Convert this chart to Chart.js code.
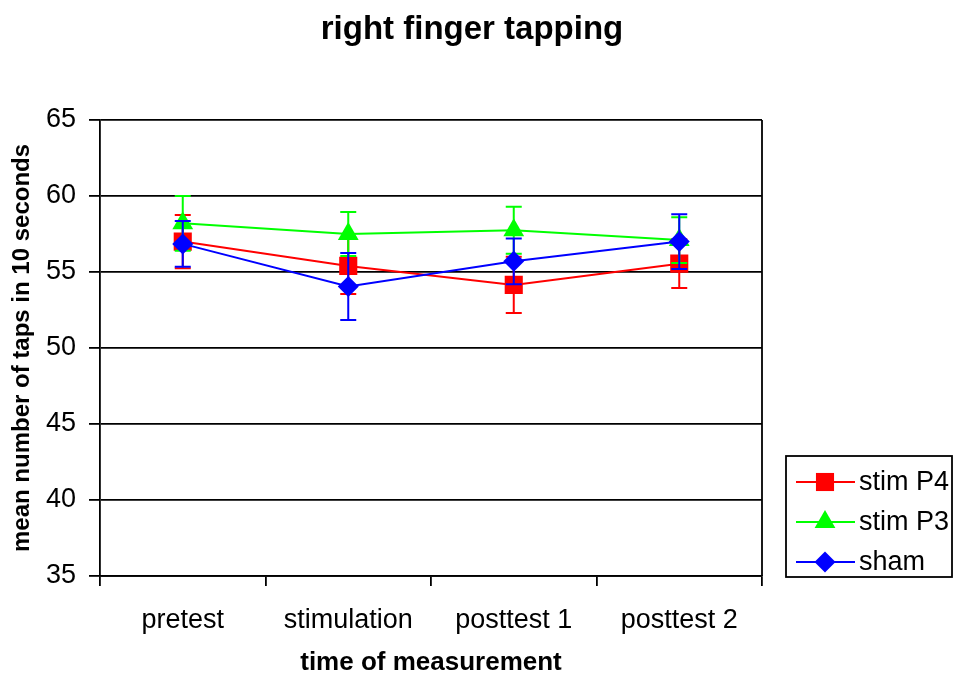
<!DOCTYPE html>
<html lang="en">
<head>
    <meta charset="UTF-8">
    <script src="https://cdn.jsdelivr.net/npm/chart.js"></script>
    <style>
        body {
            margin: 0;
            padding: 0;
            background-color: #fff;
        }
        #chart {
            display: block;
        }
    </style>
</head>
<body>
    <canvas id="chart" width="954" height="676"></canvas>
    <script>
        // Data
        const chartTitle = 'right finger tapping';
        const categories = ['pretest', 'stimulation', 'posttest 1', 'posttest 2'];
        const seriesNames = ['stim P4', 'stim P3', 'sham'];
        const stimP4 = [57.0, 55.4, 54.15, 55.55];
        const stimP4Err = [1.75, 1.85, 1.85, 1.6];
        const stimP3 = [58.2, 57.5, 57.75, 57.1];
        const stimP3Err = [1.8, 1.45, 1.55, 1.5];
        const sham = [56.85, 54.05, 55.7, 57.0];
        const shamErr = [1.5, 2.2, 1.5, 1.8];
        const yTicks = [35, 40, 45, 50, 55, 60, 65];

        const FONT = "'Liberation Sans', Arial, sans-serif";
        const colors = ['#ff0000', '#00ff00', '#0000ff'];
        const styles = ['rect', 'triangle', 'rectRot'];
        const radii = [12.8, 12, 10.5];

        // vertical error bars, drawn under each series' own markers
        const errorBars = {
            id: 'errorBars',
            beforeDatasetDraw(chart, args) {
                const ds = chart.data.datasets[args.index];
                if (!ds.errors) return;
                const y = chart.scales.y;
                const c = chart.ctx;
                c.save();
                c.strokeStyle = ds.borderColor;
                c.lineWidth = 2;
                args.meta.data.forEach((pt, i) => {
                    const v = ds.data[i], e = ds.errors[i];
                    const top = y.getPixelForValue(v + e);
                    const bot = y.getPixelForValue(v - e);
                    c.beginPath();
                    c.moveTo(pt.x, top); c.lineTo(pt.x, bot);
                    c.moveTo(pt.x - 8, top); c.lineTo(pt.x + 8, top);
                    c.moveTo(pt.x - 8, bot); c.lineTo(pt.x + 8, bot);
                    c.stroke();
                });
                c.restore();
            }
        };

        const drawMarker = (c, style, x, y, r) => {
            c.beginPath();
            if (style === 'rect') {
                const s = r * Math.SQRT1_2;
                c.rect(x - s, y - s, 2 * s, 2 * s);
            } else if (style === 'triangle') {
                for (let k = 0; k < 3; k++) {
                    const a = k * 2 * Math.PI / 3;
                    const px = x + Math.sin(a) * r, py = y - Math.cos(a) * r;
                    k ? c.lineTo(px, py) : c.moveTo(px, py);
                }
                c.closePath();
            } else {
                c.moveTo(x - r, y); c.lineTo(x, y - r);
                c.lineTo(x + r, y); c.lineTo(x, y + r);
                c.closePath();
            }
            c.fill();
        };

        // title over the whole canvas, plot frame and boxed legend on the right
        const frameAndLegend = {
            id: 'frameAndLegend',
            afterDraw(chart) {
                const c = chart.ctx;
                const a = chart.chartArea;
                c.save();
                c.fillStyle = '#000';
                c.font = 'bold 33px ' + FONT;
                c.textAlign = 'center';
                c.textBaseline = 'middle';
                c.fillText(chartTitle, 472, 30);

                c.strokeStyle = '#000';
                c.lineWidth = 1.8;
                c.beginPath();
                c.moveTo(a.right, a.top); c.lineTo(a.right, a.bottom);
                c.stroke();

                c.lineWidth = 1.8;
                c.strokeRect(786, 456, 166, 121);
                c.font = '27px ' + FONT;
                c.textAlign = 'left';
                seriesNames.forEach((name, i) => {
                    const ly = 482 + i * 40;
                    c.strokeStyle = colors[i];
                    c.fillStyle = colors[i];
                    c.lineWidth = 2;
                    c.beginPath();
                    c.moveTo(796, ly); c.lineTo(855, ly);
                    c.stroke();
                    drawMarker(c, styles[i], 825, ly, radii[i]);
                    c.fillStyle = '#000';
                    c.fillText(name, 859, ly + 1);
                });
                c.restore();
            }
        };

        const makeSet = (i, data, errors) => ({
            label: seriesNames[i],
            data: data,
            errors: errors,
            borderColor: colors[i],
            backgroundColor: colors[i],
            pointBackgroundColor: colors[i],
            pointBorderColor: colors[i],
            pointBorderWidth: 0,
            pointStyle: styles[i],
            pointRadius: radii[i],
            borderWidth: 2,
            tension: 0,
            fill: false,
            order: 3 - i
        });

        new Chart(document.getElementById('chart'), {
            type: 'line',
            data: {
                labels: categories,
                datasets: [
                    makeSet(0, stimP4, stimP4Err),
                    makeSet(1, stimP3, stimP3Err),
                    makeSet(2, sham, shamErr)
                ]
            },
            plugins: [errorBars, frameAndLegend],
            options: {
                responsive: false,
                animation: false,
                devicePixelRatio: 1,
                layout: { padding: { left: 0, right: 192, top: 120, bottom: 0 } },
                plugins: {
                    legend: { display: false },
                    tooltip: { enabled: false },
                    title: { display: false }
                },
                scales: {
                    x: {
                        offset: true,
                        afterFit: (s) => { s.height = 100; },
                        grid: {
                            offset: true,
                            drawOnChartArea: false,
                            drawTicks: true,
                            tickLength: 10,
                            color: '#000',
                            lineWidth: 1.8
                        },
                        border: { color: '#000', width: 1.8 },
                        ticks: {
                            color: '#000',
                            font: { family: FONT, size: 27 },
                            padding: 18,
                            maxRotation: 0
                        },
                        title: {
                            display: true,
                            text: 'time of measurement',
                            color: '#000',
                            font: { family: FONT, size: 26, weight: 'bold', lineHeight: 1 },
                            padding: 0
                        }
                    },
                    y: {
                        min: 35,
                        max: 65,
                        afterFit: (s) => { s.width = 100; },
                        afterBuildTicks: (s) => { s.ticks = yTicks.map(v => ({ value: v })); },
                        grid: {
                            color: '#000',
                            lineWidth: 1.8,
                            tickLength: 11
                        },
                        border: { color: '#000', width: 1.8 },
                        ticks: {
                            color: '#000',
                            font: { family: FONT, size: 27 },
                            padding: 13
                        },
                        title: {
                            display: true,
                            text: 'mean number of taps in 10 seconds',
                            color: '#000',
                            font: { family: FONT, size: 24, weight: 'bold', lineHeight: 1 },
                            padding: { top: 10, bottom: 0 }
                        }
                    }
                }
            }
        });
    </script>
</body>
</html>
